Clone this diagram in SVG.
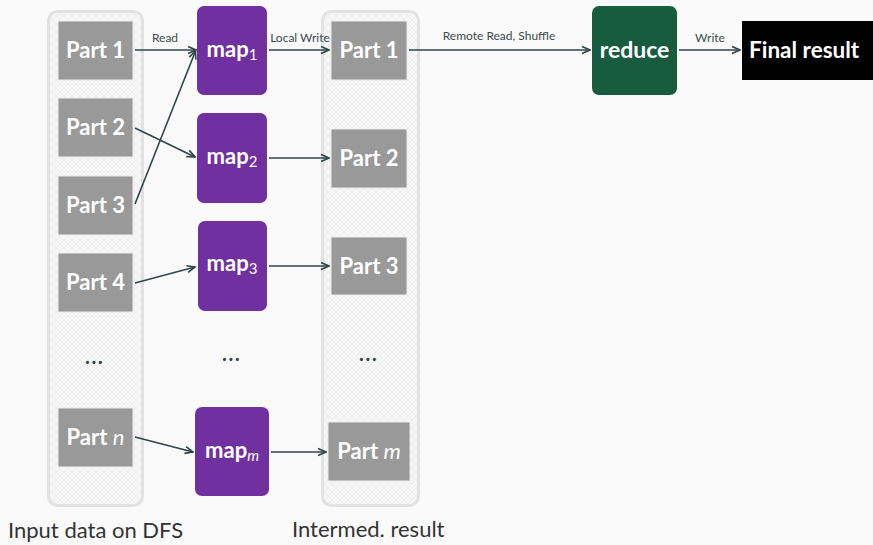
<svg xmlns="http://www.w3.org/2000/svg" width="873" height="545" viewBox="0 0 873 545">
  <defs>
    <pattern id="hatch" width="8" height="8" patternUnits="userSpaceOnUse">
      <rect width="8" height="8" fill="#f6f6f6"/>
      <path d="M0,0 L8,8 M8,0 L0,8" stroke="#ebebeb" stroke-width="0.8"/>
    </pattern>
    <marker id="arrow" viewBox="0 0 10 10" refX="9" refY="5" markerWidth="10" markerHeight="10" markerUnits="userSpaceOnUse" orient="auto">
      <path d="M1,1.5 L9,5 L1,8.5" fill="none" stroke="#2f4548" stroke-width="1.6" stroke-linejoin="miter"/>
    </marker>
    <style>
      .bg { fill: #fafafa; }
      .container { fill: url(#hatch); stroke: #e2e2e2; stroke-width: 3; }
      .part { fill: #999999; stroke: #ececec; stroke-width: 1; }
      .map { fill: #7030a0; }
      .reduce { fill: #175c3e; }
      .final { fill: #000000; }
      .lbl { font-family: Lato, "Open Sans", sans-serif; font-weight: bold; font-size: 22px; fill: #ffffff; text-anchor: middle; }
      .big { font-size: 23px; }
      .start { text-anchor: start; font-size: 22.5px; }
      .sub { font-weight: normal; font-size: 15px; }
      .edge { stroke: #2f4548; stroke-width: 1.6; fill: none; marker-end: url(#arrow); }
      .elbl { font-family: Lato, "Open Sans", sans-serif; font-size: 12px; fill: #3a4a4c; text-anchor: middle; }
      .caption { font-family: Lato, "Open Sans", sans-serif; font-size: 22px; fill: #333333; }
      .dots { font-family: Lato, "Open Sans", sans-serif; font-size: 25px; fill: #2f4548; text-anchor: middle; }
    </style>
  </defs>

  <rect class="bg" x="0" y="0" width="873" height="545"/>

  <!-- storage columns -->
  <g id="input-column">
    <rect class="container" x="48.5" y="11.5" width="94" height="494" rx="9"/>
    <text class="caption" x="8" y="538">Input data on DFS</text>
  </g>
  <g id="intermediate-column">
    <rect class="container" x="322.5" y="11.5" width="96" height="494" rx="9"/>
    <text class="caption" x="292" y="537">Intermed. result</text>
  </g>

  <!-- input partitions -->
  <g id="in-part1"><rect class="part" x="58" y="21" width="75" height="59"/><text class="lbl" x="95.5" y="58">Part 1</text></g>
  <g id="in-part2"><rect class="part" x="58" y="98" width="75" height="59"/><text class="lbl" x="95.5" y="135">Part 2</text></g>
  <g id="in-part3"><rect class="part" x="58" y="176" width="75" height="59"/><text class="lbl" x="95.5" y="213">Part 3</text></g>
  <g id="in-part4"><rect class="part" x="58" y="253" width="75" height="59"/><text class="lbl" x="95.5" y="290">Part 4</text></g>
  <g id="in-dots"><text class="dots" x="94" y="364">…</text></g>
  <g id="in-partn"><rect class="part" x="58" y="408" width="75" height="59"/><text class="lbl" x="95.5" y="445">Part <tspan font-style="italic" font-weight="normal">n</tspan></text></g>

  <!-- map tasks -->
  <g id="map1"><rect class="map" x="197" y="6" width="70" height="89" rx="7"/><text class="lbl" x="232" y="57">map<tspan class="sub" dy="3">1</tspan></text></g>
  <g id="map2"><rect class="map" x="197" y="113" width="70" height="90" rx="7"/><text class="lbl" x="232" y="164">map<tspan class="sub" dy="3">2</tspan></text></g>
  <g id="map3"><rect class="map" x="198" y="221" width="69" height="90" rx="7"/><text class="lbl" x="232" y="271">map<tspan class="sub" dy="3">3</tspan></text></g>
  <g id="map-dots"><text class="dots" x="231" y="361">…</text></g>
  <g id="mapm"><rect class="map" x="195" y="407" width="74" height="89" rx="7"/><text class="lbl" x="232" y="458">map<tspan class="sub" dy="3" font-style="italic">m</tspan></text></g>

  <!-- intermediate partitions -->
  <g id="mid-part1"><rect class="part" x="331" y="21" width="76" height="59"/><text class="lbl" x="369" y="58">Part 1</text></g>
  <g id="mid-part2"><rect class="part" x="331" y="129" width="76" height="59"/><text class="lbl" x="369" y="166">Part 2</text></g>
  <g id="mid-part3"><rect class="part" x="331" y="237" width="76" height="58"/><text class="lbl" x="369" y="274">Part 3</text></g>
  <g id="mid-dots"><text class="dots" x="368" y="361">…</text></g>
  <g id="mid-partm"><rect class="part" x="328" y="422" width="82" height="59"/><text class="lbl" x="369" y="459">Part <tspan font-style="italic" font-weight="normal">m</tspan></text></g>

  <!-- reduce and output -->
  <g id="reduce"><rect class="reduce" x="592" y="6" width="85" height="89" rx="7"/><text class="lbl big" x="634.5" y="58">reduce</text></g>
  <g id="final"><rect class="final" x="742" y="21" width="140" height="59"/><text class="lbl start" x="749" y="58">Final result</text></g>

  <!-- connectors -->
  <g id="connectors">
    <path class="edge" d="M135,50 L196,50"/>
    <path class="edge" d="M135,204 L195.5,51"/>
    <path class="edge" d="M135,128 L195,157"/>
    <path class="edge" d="M135,283 L195,267"/>
    <path class="edge" d="M135,437 L193,452"/>
    <path class="edge" d="M269,50 L329,50"/>
    <path class="edge" d="M269,158 L329,158"/>
    <path class="edge" d="M269,266 L329,266"/>
    <path class="edge" d="M271,452 L326,452"/>
    <path class="edge" d="M409,50 L590,50"/>
    <path class="edge" d="M679,50 L740,50"/>
    <text class="elbl" x="165" y="42">Read</text>
    <text class="elbl" x="300" y="42">Local Write</text>
    <text class="elbl" x="499" y="40">Remote Read, Shuffle</text>
    <text class="elbl" x="710" y="42">Write</text>
  </g>
</svg>
